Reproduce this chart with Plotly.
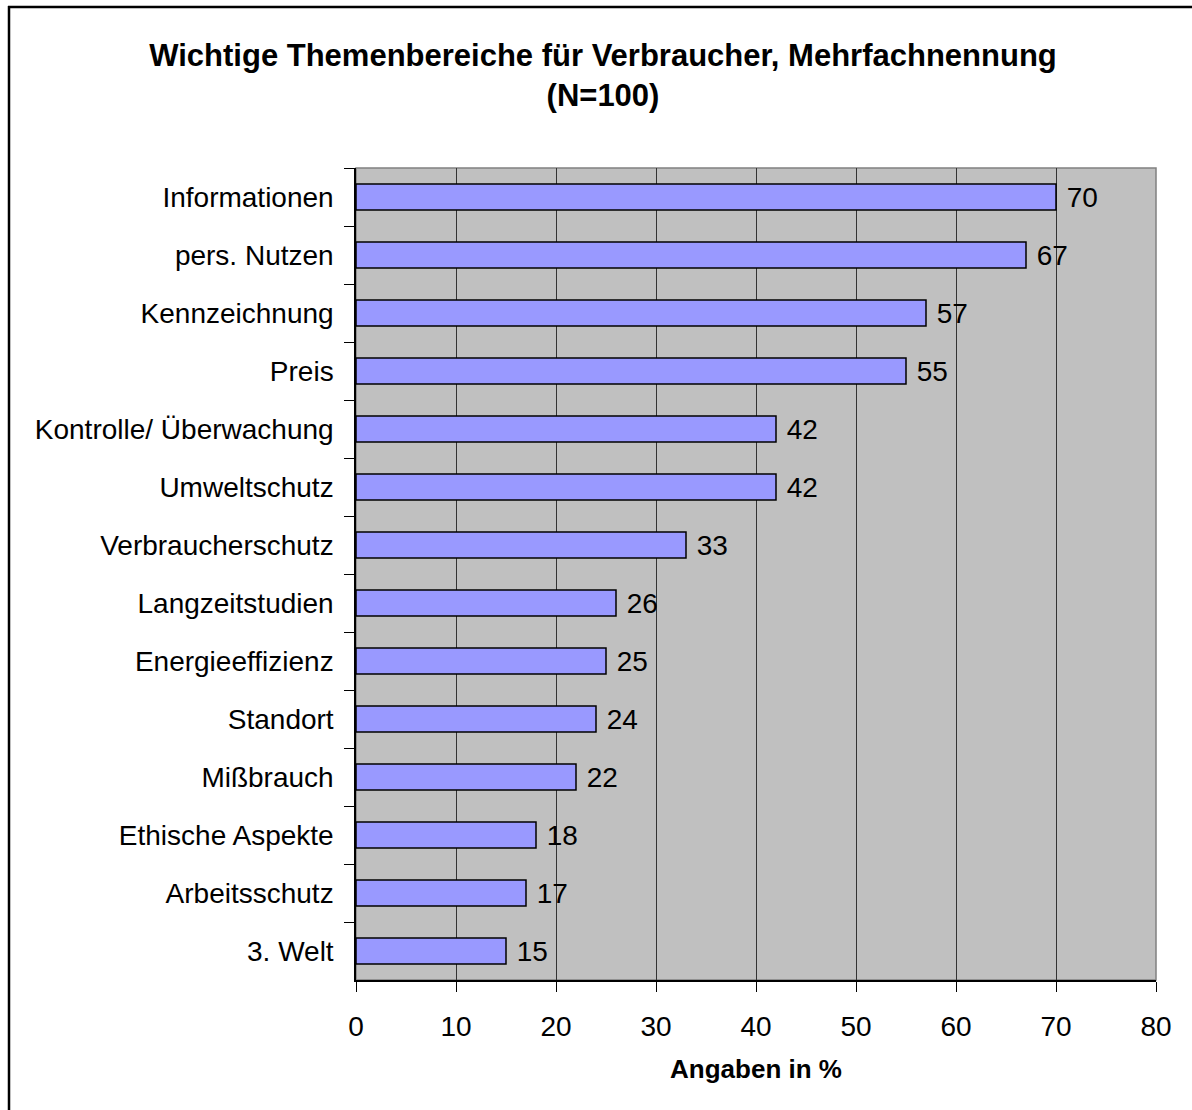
import plotly.graph_objects as go

categories = ["Informationen", "pers. Nutzen", "Kennzeichnung", "Preis",
              "Kontrolle/ Überwachung", "Umweltschutz", "Verbraucherschutz",
              "Langzeitstudien", "Energieeffizienz", "Standort", "Mißbrauch",
              "Ethische Aspekte", "Arbeitsschutz", "3. Welt"]
values = [70, 67, 57, 55, 42, 42, 33, 26, 25, 24, 22, 18, 17, 15]
x_ticks = [0, 10, 20, 30, 40, 50, 60, 70, 80]

W, H = 1192, 1110
L, R, T, B = 356, 36, 168, 130
pw, ph = W - L - R, H - T - B

FONT = "Liberation Sans, Arial, sans-serif"

fig = go.Figure(go.Bar(
    x=values, y=categories, orientation="h",
    marker=dict(color="#9999FF", line=dict(color="black", width=1.5)),
    width=0.45,
    text=[f" {v}" for v in values], textposition="outside",
    textfont=dict(family=FONT, size=28, color="black"),
    outsidetextfont=dict(family=FONT, size=28, color="black"),
    constraintext="none",
    cliponaxis=False,
))

fig.update_layout(
    width=W, height=H,
    margin=dict(l=L, r=R, t=T, b=B, autoexpand=False),
    paper_bgcolor="white", plot_bgcolor="#C0C0C0",
    font=dict(family=FONT, color="black"),
    showlegend=False,
    title=dict(
        text="Wichtige Themenbereiche für Verbraucher, Mehrfachnennung<br>(N=100)",
        x=603 / W, xanchor="center", xref="container",
        y=1 - 66 / H, yanchor="top", yref="container",
        font=dict(family=FONT, size=31, color="black", weight="bold"),
    ),
    xaxis=dict(
        range=[0, 80], tickvals=x_ticks, showgrid=True, gridcolor="#333333", gridwidth=1,
        showline=True, linecolor="black", linewidth=1.5,
        ticks="outside", ticklen=10, tickcolor="black", tickwidth=1,
        tickfont=dict(family=FONT, size=28, color="black"),
        ticklabelstandoff=11,
        zeroline=False,
        title=dict(text="<b>Angaben in %</b>", font=dict(family=FONT, size=26, color="black"),
                   standoff=18),
    ),
    yaxis=dict(
        categoryorder="array", categoryarray=categories, autorange="reversed",
        showline=True, linecolor="black", linewidth=1.5,
        ticks="outside", ticklen=10, tickcolor="black", tickwidth=1,
        tickson="boundaries", showgrid=False,
        tickfont=dict(family=FONT, size=28, color="black"),
        ticklabelstandoff=15,
    ),
    bargap=0.55,
    shapes=[
        dict(type="rect", xref="paper", yref="paper", x0=0, x1=1, y0=0, y1=1,
             line=dict(color="#808080", width=1.5), layer="below"),
        dict(type="line", xref="paper", yref="paper",
             x0=(9 - L) / pw, x1=(9 - L) / pw,
             y0=(H - B - (H + 5)) / ph, y1=(H - B - 6) / ph,
             line=dict(color="black", width=2.5)),
        dict(type="line", xref="paper", yref="paper",
             x0=(8 - L) / pw, x1=(W + 5 - L) / pw,
             y0=(H - B - 7) / ph, y1=(H - B - 7) / ph,
             line=dict(color="black", width=2.5)),
    ],
)

fig.write_html("out.html", post_script="document.body.style.margin='0';",
               config={"displayModeBar": False})
